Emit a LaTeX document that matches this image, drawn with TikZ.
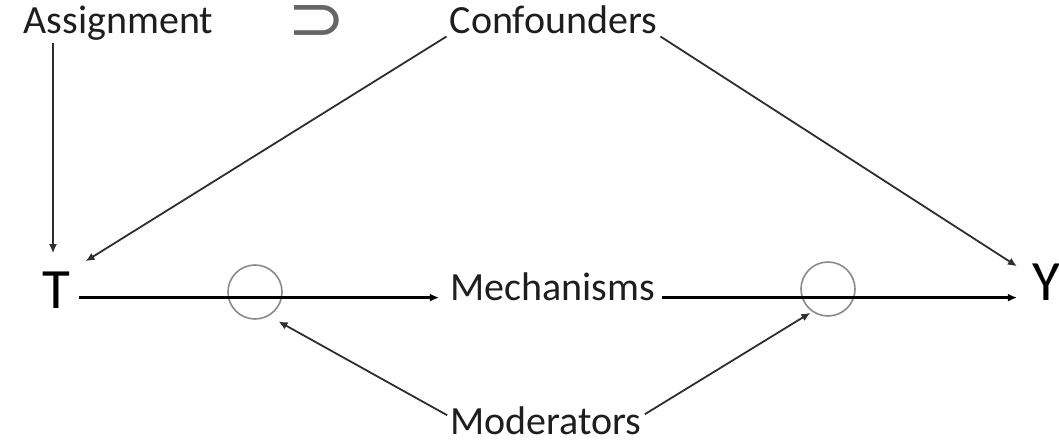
\documentclass[tikz,border=0pt]{standalone}
\usepackage{fontspec}
\setmainfont{Carlito}
\newfontfamily\symfont{DejaVu Sans}
\usetikzlibrary{arrows.meta}
\definecolor{txt}{HTML}{1E1E1E}
\definecolor{thin}{HTML}{2E2E2E}
\definecolor{circ}{HTML}{8A8A8A}
\begin{document}
\begin{tikzpicture}[x=1pt,y=-1pt,
  lbl/.style={font=\fontsize{40}{44}\selectfont, text=txt, inner sep=3pt, anchor=base},
  big/.style={font=\fontsize{57}{62}\selectfont, text=black, anchor=base},
  ring/.style={circle, draw=circ, line width=1.6pt, minimum size=54pt, inner sep=0pt},
  thinarr/.style={draw=thin, line width=1.8pt, -{Latex[length=9pt,width=8pt]}},
  mainarr/.style={draw=black, line width=3pt, -{Latex[length=9pt,width=8pt]}}
]
\useasboundingbox (0,0) rectangle (1059,442);
\node[lbl] (a) at (118.5,33) {Assignment};
\node[font=\symfont\fontsize{40}{44}\selectfont, text=black!60, inner sep=0pt] (sup) at (317,23) {\scalebox{1.75}[1.6]{⊃}};
\node[lbl] (c) at (553.5,33) {Confounders};
\node[big, inner xsep=8pt, inner ysep=18pt] (T) at (56.5,308) {T};
\node[big, inner xsep=15pt, inner ysep=0pt] (Y) at (1046,300) {Y};
\node[lbl] (m) at (552.5,300) {Mechanisms};
\node[lbl] (d) at (546,434) {Moderators};
\node[ring] (c1) at (255,292) {};
\node[ring] (c2) at (828,289) {};
% arrows
\draw[thinarr] ([xshift=-3.5pt]T.north |- a.south) -- ([xshift=-3.5pt]T.north);
\draw[thinarr] (c.south west) -- ([shift={(7,8)}]T.north east);
\draw[thinarr] (c.south east) -- ([shift={(0,3)}]Y.north west);
\draw[mainarr, shorten >=8pt] (m.mid west -| T.east) -- (m.mid west);
\draw[mainarr] ([xshift=4pt]m.mid east) -- (m.mid east -| Y.west);
\draw[thinarr, shorten >=11pt] ([yshift=5pt]d.west) -- (c1.-60);
\draw[thinarr, shorten >=2pt] ([yshift=6pt]d.east) -- (c2.-125);
\end{tikzpicture}
\end{document}
